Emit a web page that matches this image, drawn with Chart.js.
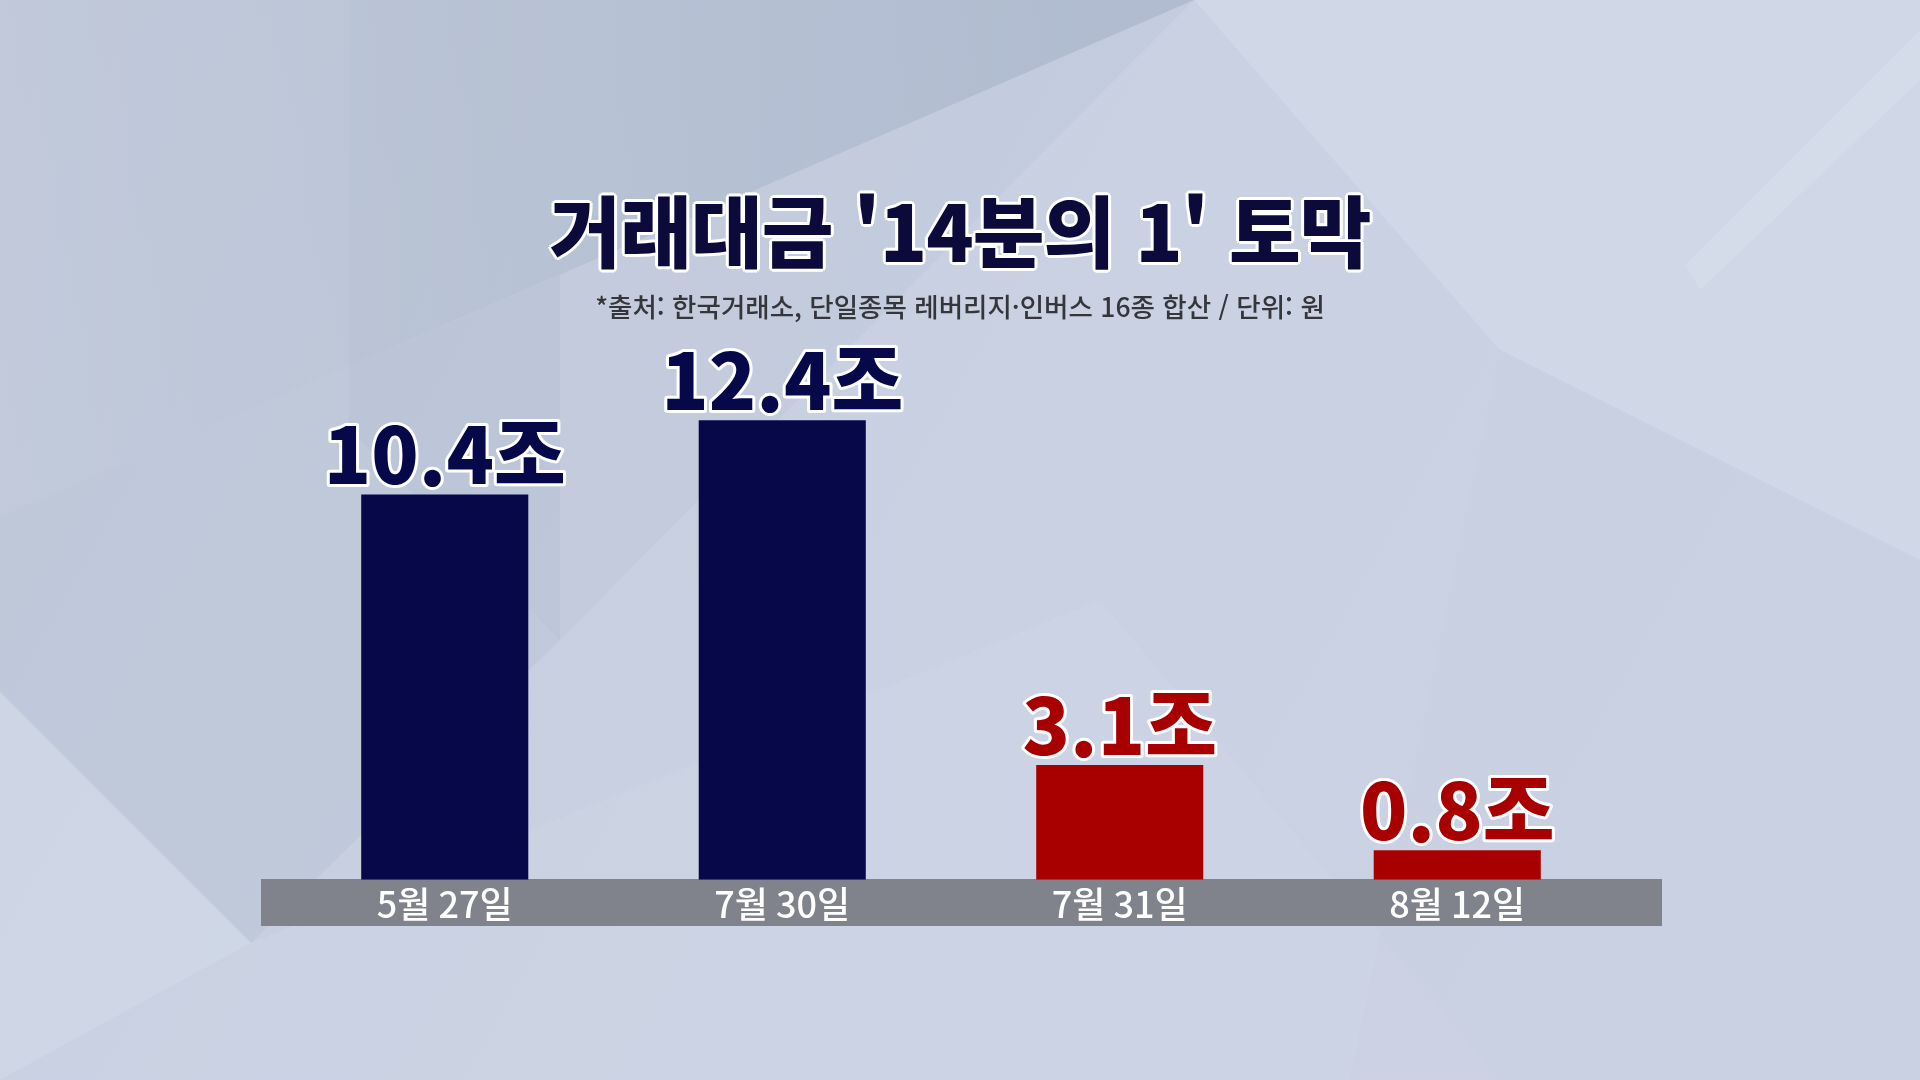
<!DOCTYPE html>
<html lang="ko">
<head>
<meta charset="utf-8">
<title>거래대금 '14분의 1' 토막</title>
<script src="https://cdn.jsdelivr.net/npm/chart.js@4"></script>
<style>
    html, body { margin: 0; padding: 0; }
    body { width: 1920px; height: 1080px; overflow: hidden; position: relative; background: #c6cfdf; }
    #chart { position: absolute; left: 0; top: 0; }
    .title {
        position: absolute; left: 0; width: 1920px; top: 189px;
        text-align: center; font-family: "Noto Sans CJK KR", sans-serif;
        font-weight: 900; font-size: 78px; line-height: 78px; color: #0b0a3b;
        letter-spacing: -1px;
        text-shadow: 3px 0 0 #fff, -3px 0 0 #fff, 0 3px 0 #fff, 0 -3px 0 #fff,
                     2px 2px 0 #fff, -2px 2px 0 #fff, 2px -2px 0 #fff, -2px -2px 0 #fff;
    }
    .sub {
        position: absolute; left: 0; width: 1920px; top: 293px;
        text-align: center; font-family: "Noto Sans CJK KR", sans-serif;
        font-weight: 500; font-size: 26.5px; line-height: 26px; color: #35363c;
    }
</style>
</head>
<body>
<canvas id="chart" width="1920" height="1080"></canvas>
<div class="title">거래대금 '14분의 1' 토막</div>
<div class="sub">*출처: 한국거래소, 단일종목 레버리지·인버스 16종 합산 / 단위: 원</div>
<script>
// data
const categories = ['5월 27일', '7월 30일', '7월 31일', '8월 12일'];
const values = [10.4, 12.4, 3.1, 0.8];   // 조 원
const unit = '조';

const NAVY = '#07084a';
const RED = '#a80000';
const barColors = [NAVY, NAVY, RED, RED];

const ctx = document.querySelector('#chart').getContext('2d');

// background with soft diagonal panels
const backdrop = {
    id: 'backdrop',
    beforeDraw(chart) {
        const c = chart.ctx;
        const g = c.createLinearGradient(0, 0, 1920, 1080);
        g.addColorStop(0, '#c4ccdc');
        g.addColorStop(0.5, '#c9d1e2');
        g.addColorStop(1, '#cbd2e3');
        c.save();
        c.fillStyle = g;
        c.fillRect(0, 0, 1920, 1080);

        const poly = (pts, color) => {
            c.beginPath();
            c.moveTo(pts[0][0], pts[0][1]);
            pts.slice(1).forEach(p => c.lineTo(p[0], p[1]));
            c.closePath();
            c.fillStyle = color;
            c.fill();
        };
        // darker upper wedge, strongest near the top middle
        const dg = c.createLinearGradient(0, 0, 1100, 0);
        dg.addColorStop(0, 'rgba(150,165,188,0.08)');
        dg.addColorStop(1, 'rgba(140,158,182,0.35)');
        poly([[0, 0], [1194, 0], [0, 517]], dg);
        poly([[349, 0], [1194, 0], [560, 640], [349, 430]], 'rgba(140,155,178,0.07)');
        // darker middle-left strip under the wedge
        poly([[0, 517], [560, 275], [560, 640], [251, 943], [0, 692]], 'rgba(150,165,188,0.12)');
        // lighter panels
        poly([[1194, 0], [1920, 0], [1920, 560], [1500, 350]], 'rgba(220,226,240,0.35)');
        poly([[0, 692], [251, 943], [0, 1080]], 'rgba(215,224,238,0.45)');
        poly([[251, 943], [1100, 600], [1500, 1080], [0, 1080]], 'rgba(212,220,236,0.25)');
        poly([[1500, 350], [1920, 560], [1920, 1080], [1350, 1080]], 'rgba(200,206,224,0.22)');
        poly([[1920, 30], [1920, 80], [1700, 290], [1685, 265]], 'rgba(232,236,246,0.18)');

        // grey label band
        c.fillStyle = '#80838b';
        c.fillRect(261, 879, 1401, 47);
        c.restore();
    }
};

// value labels above bars
const valueLabels = {
    id: 'valueLabels',
    afterDatasetsDraw(chart) {
        const c = chart.ctx;
        const meta = chart.getDatasetMeta(0);
        c.save();
        c.font = '900 78px "Noto Sans CJK KR", sans-serif';
        c.textAlign = 'center';
        c.textBaseline = 'alphabetic';
        c.lineJoin = 'round';
        c.lineWidth = 6;
        c.strokeStyle = '#ffffff';
        meta.data.forEach((bar, i) => {
            const txt = values[i].toFixed(1) + unit;
            c.strokeText(txt, bar.x, bar.y - 10);
            c.fillStyle = barColors[i];
            c.fillText(txt, bar.x, bar.y - 10);
        });
        c.restore();
    }
};

new Chart(ctx, {
    type: 'bar',
    data: {
        labels: categories,
        datasets: [{
            data: values,
            backgroundColor: barColors,
            borderWidth: 0,
            barPercentage: 0.495,
            categoryPercentage: 1
        }]
    },
    options: {
        responsive: false,
        animation: false,
        layout: { padding: { left: 276, right: 294, top: 324, bottom: 151 } },
        plugins: { legend: { display: false }, tooltip: { enabled: false } },
        scales: {
            x: {
                grid: { display: false, drawTicks: false },
                border: { display: false },
                ticks: {
                    color: '#ffffff',
                    padding: 3,
                    font: { family: '"Noto Sans CJK KR", sans-serif', size: 36, weight: 500 }
                }
            },
            y: { display: false, min: 0, max: 15 }
        }
    },
    plugins: [backdrop, valueLabels]
});
</script>
</body>
</html>
